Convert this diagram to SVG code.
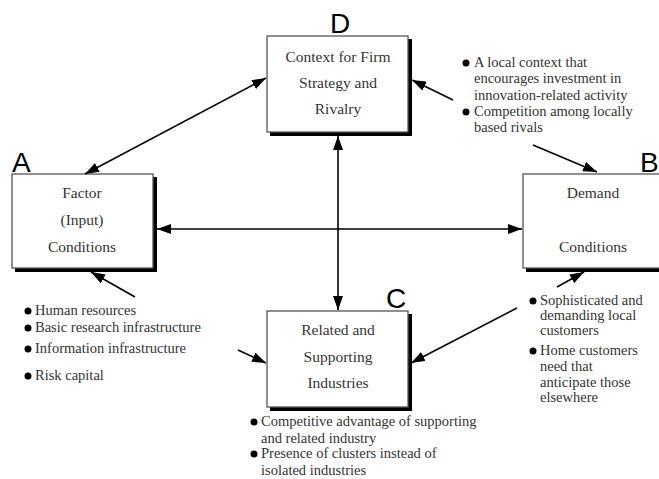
<svg xmlns="http://www.w3.org/2000/svg" width="659" height="479" viewBox="0 0 659 479">
<style>
.box{fill:#fff;stroke:#555;stroke-width:1.3}
.sh{fill:#000}
.bt{font-family:"Liberation Serif",serif;font-size:15.5px;fill:#333;text-anchor:middle}
.bl{font-family:"Liberation Serif",serif;font-size:14.5px;fill:#333}
.lt{font-family:"Liberation Sans",Arial,sans-serif;font-size:28px;fill:#000}
.c{stroke:#000;stroke-width:1.6;fill:none}
.dot{fill:#000}
</style>
<defs>
<marker id="ah" viewBox="0 0 14 10" refX="14" refY="5" markerWidth="14" markerHeight="10" markerUnits="userSpaceOnUse" orient="auto-start-reverse">
<path d="M0,0 L14,5 L0,10 z" fill="#000"/>
</marker>
</defs>
<rect width="659" height="479" fill="#fff"/>

<g id="nodeD">
<rect class="sh" x="270" y="39" width="142" height="97"/>
<rect class="box" x="267" y="36" width="141" height="96"/>
<text class="bt" x="338" y="62">Context for Firm</text>
<text class="bt" x="338" y="88">Strategy and</text>
<text class="bt" x="338" y="114">Rivalry</text>
<text class="lt" x="330" y="33">D</text>
</g>

<g id="nodeA">
<rect class="sh" x="15" y="177" width="142" height="95"/>
<rect class="box" x="12" y="174" width="141" height="94"/>
<text class="bt" x="82" y="198">Factor</text>
<text class="bt" x="82" y="225">(Input)</text>
<text class="bt" x="82" y="252">Conditions</text>
<text class="lt" x="12" y="172">A</text>
</g>

<g id="nodeB">
<rect class="sh" x="526" y="177" width="140" height="95"/>
<rect class="box" x="523" y="174" width="140" height="94"/>
<text class="bt" x="593" y="198">Demand</text>
<text class="bt" x="593" y="252">Conditions</text>
<text class="lt" x="640" y="172">B</text>
</g>

<g id="nodeC">
<rect class="sh" x="270" y="314" width="142" height="97"/>
<rect class="box" x="267" y="311" width="141" height="96"/>
<text class="bt" x="338" y="335">Related and</text>
<text class="bt" x="338" y="362">Supporting</text>
<text class="bt" x="338" y="388">Industries</text>
<text class="lt" x="386" y="308">C</text>
</g>

<g id="notesD">
<circle class="dot" cx="466" cy="63" r="3.5"/>
<text class="bl" x="474" y="67">A local context that</text>
<text class="bl" x="474" y="83">encourages investment in</text>
<text class="bl" x="474" y="100">innovation-related activity</text>
<circle class="dot" cx="466" cy="112" r="3.5"/>
<text class="bl" x="474" y="116">Competition among locally</text>
<text class="bl" x="474" y="132">based rivals</text>
</g>

<g id="notesA">
<circle class="dot" cx="28" cy="311" r="3.5"/>
<text class="bl" x="35" y="315">Human resources</text>
<circle class="dot" cx="28" cy="328" r="3.5"/>
<text class="bl" x="35" y="332">Basic research infrastructure</text>
<circle class="dot" cx="28" cy="349" r="3.5"/>
<text class="bl" x="35" y="353">Information infrastructure</text>
<circle class="dot" cx="28" cy="376" r="3.5"/>
<text class="bl" x="35" y="380">Risk capital</text>
</g>

<g id="notesC">
<circle class="dot" cx="254" cy="422" r="3.5"/>
<text class="bl" x="261" y="426">Competitive advantage of supporting</text>
<text class="bl" x="261" y="443">and related industry</text>
<circle class="dot" cx="254" cy="454" r="3.5"/>
<text class="bl" x="261" y="458">Presence of clusters instead of</text>
<text class="bl" x="261" y="475">isolated industries</text>
</g>

<g id="notesB">
<circle class="dot" cx="533" cy="301" r="3.5"/>
<text class="bl" x="540" y="305">Sophisticated and</text>
<text class="bl" x="540" y="320">demanding local</text>
<text class="bl" x="540" y="335">customers</text>
<circle class="dot" cx="533" cy="351" r="3.5"/>
<text class="bl" x="540" y="355">Home customers</text>
<text class="bl" x="540" y="371">need that</text>
<text class="bl" x="540" y="387">anticipate those</text>
<text class="bl" x="540" y="402">elsewhere</text>
</g>

<g id="connectors">
<line class="c" x1="266" y1="78" x2="85" y2="174" marker-start="url(#ah)" marker-end="url(#ah)"/>
<line class="c" x1="157" y1="229" x2="522" y2="229" marker-start="url(#ah)" marker-end="url(#ah)"/>
<line class="c" x1="338" y1="136" x2="338" y2="310" marker-start="url(#ah)" marker-end="url(#ah)"/>
<line class="c" x1="453" y1="100" x2="412" y2="80" marker-end="url(#ah)"/>
<line class="c" x1="533" y1="145" x2="597" y2="172" marker-end="url(#ah)"/>
<line class="c" x1="135" y1="297" x2="91" y2="272" marker-end="url(#ah)"/>
<line class="c" x1="238" y1="350" x2="266" y2="363" marker-end="url(#ah)"/>
<line class="c" x1="517" y1="308" x2="411" y2="363" marker-end="url(#ah)"/>
<line class="c" x1="557" y1="287" x2="584" y2="272" marker-end="url(#ah)"/>
</g>
</svg>
